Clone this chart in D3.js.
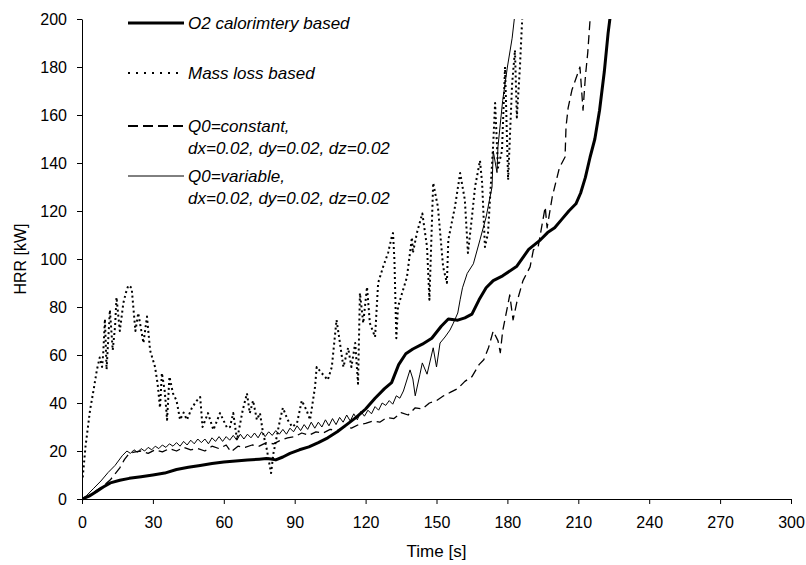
<!DOCTYPE html>
<html lang="en">
<head>
    <meta charset="UTF-8">
    <script src="https://d3js.org/d3.v7.min.js"></script>
    <title>HRR vs time</title>
    <style>
        body { margin: 0; background: #fff; }
        text { font-family: "Liberation Sans", Arial, sans-serif; fill: #000; }
        .axis path, .axis line { stroke: #000; stroke-width: 1; }
        .axis text { font-size: 16px; }
        .legend text { font-size: 17px; font-style: italic; }
    </style>
</head>
<body>
<div id="chart"></div>
<script>
    // data: [time (s), HRR (kW)]
    const o2Calorimetry = [
        [0, 0], [3, 1.2], [6, 3], [9, 5], [12, 6.7], [16, 7.8], [20, 8.6], [25, 9.3], [30, 10],
        [35, 10.8], [40, 12.3], [45, 13.2], [50, 14], [55, 14.8], [60, 15.4], [65, 15.8], [70, 16.2],
        [75, 16.6], [78, 16.9], [80, 16.7], [82, 16.3], [85, 17.5], [88, 19], [92, 20.5], [96, 21.7],
        [100, 23.5], [104, 25.5], [108, 28], [112, 31], [116, 34], [120, 37.5], [124, 42], [128, 46],
        [131, 48.5], [134, 56], [137, 60.5], [140, 62.5], [144, 64.5], [148, 67], [152, 72], [155, 75],
        [159, 74.5], [162, 75.5], [165, 77], [168, 83], [171, 88], [174, 91], [178, 93], [184, 97],
        [189, 104], [194, 108], [197, 111], [200, 113], [203, 116.5], [206, 120], [209, 123], [211, 127.5],
        [213, 134], [215, 142.5], [217, 150], [219, 162], [221, 178], [222.6, 194], [224, 205]
    ];

    const massLoss = [
        [0.3, 9], [1.5, 22], [3.4, 37], [5, 46], [6.3, 53.8], [7.5, 59], [8.5, 55], [9, 61], [9.7, 75],
        [10.4, 54], [11.2, 68], [11.8, 78.8], [13, 62], [14, 72], [14.6, 84], [16, 70], [17.5, 81.7],
        [18.6, 86], [19.6, 89], [21, 88], [22.6, 70], [23.8, 77.5], [26, 65], [27.5, 76], [28.8, 62],
        [30.9, 55], [32, 48], [33, 38], [33.8, 52.5], [35, 45], [36, 33], [37, 51], [38.5, 44], [40, 41],
        [41.5, 33], [43, 36], [44.4, 33], [46.5, 38], [48.6, 41], [50, 42.5], [51, 30], [53.3, 35.8],
        [55.6, 28.8], [58.4, 35.8], [61.4, 29.6], [62.6, 30], [64, 35.8], [65.6, 24.6], [68, 37],
        [69.8, 44], [71, 35.8], [72.4, 41], [74, 33], [75.3, 35.8], [76.6, 27.5], [78, 21.7], [80, 10.8],
        [81, 19], [83.8, 33], [85, 38], [87, 33], [89, 30], [91, 31.7], [93, 41], [95, 37], [96.5, 33],
        [98.6, 46.7], [99.3, 55], [101.4, 52.5], [104, 49.6], [105.7, 55], [107.7, 74.6], [109, 66],
        [110.6, 55], [112.6, 63], [114, 55], [115.6, 65], [116.8, 48], [117.6, 85.8], [119, 73.3],
        [120.6, 88.3], [121.8, 73.3], [124, 67.5], [125.3, 90], [127.4, 96.7], [129.5, 102.5], [131, 109],
        [131.6, 110.8], [132.2, 99.6], [133, 67], [133.7, 80], [134.6, 83], [137.5, 92.5], [139.6, 109],
        [140, 102.5], [141.7, 110.8], [144, 119], [146, 105], [147, 83], [148.6, 131.7], [150.6, 121.7],
        [152.8, 96.7], [154.4, 90], [155, 108], [157.8, 121.7], [160, 135.8], [162, 124.6], [163.3, 102.5],
        [165, 117.5], [166.3, 130], [168.4, 141], [169.3, 131.7], [170.5, 105], [171.8, 110.8], [174, 148],
        [174.8, 165], [176, 138], [177.7, 145], [179, 180], [180.3, 133], [182, 173], [183.2, 187],
        [184, 159], [185.3, 180], [186.5, 205]
    ];

    const q0Constant = [
        [0, 0], [3, 1.5], [6, 3.5], [9, 5.5], [12, 8], [14, 10.5], [16, 13], [18, 16.5], [20, 19],
        [22, 19.5], [25, 20], [28, 19], [31, 20.5], [34, 19.6], [37, 21], [40, 20], [43, 21.5], [46, 20.5],
        [49, 21], [52, 20], [55, 22], [58, 21], [61, 22.5], [63, 19.6], [66, 22], [69, 21.5], [72, 22.5],
        [75, 22], [78, 23.5], [81, 23], [84, 24.5], [87, 25.5], [90, 26], [93, 27.5], [96, 26.5], [99, 28],
        [102, 27.5], [105, 29], [108, 28.5], [111, 30], [114, 29.5], [117, 31], [120, 31.5], [123, 32.5],
        [126, 32], [129, 34], [132, 33.5], [135, 36], [138, 35], [141, 38], [144, 37.5], [147, 40],
        [150, 41], [153, 43], [156, 44.5], [159, 46], [162, 49], [165, 51], [168, 56], [170, 58], [172, 63],
        [174, 70], [176, 66], [177, 61], [178, 70], [180, 80], [181, 85], [182.4, 74.6], [184, 82],
        [186.6, 91], [189.6, 96.7], [191, 103.8], [193, 105], [196, 121.7], [196.8, 113], [199, 126],
        [202, 138], [204.4, 142.5], [204.8, 155], [205.7, 163], [207.3, 170.4], [210.7, 180], [212, 162],
        [213, 176], [214, 186], [215, 200], [216, 210]
    ];

    const q0Variable = [
        [0, 0], [2, 1.5], [5, 4.5], [8, 7.5], [11, 11], [14, 14], [17, 18], [19, 20], [20.5, 19],
        [22, 20.5], [23.5, 19.5], [25, 21], [26.5, 20], [28, 21.5], [29.5, 20.5], [31, 22], [32.5, 21],
        [34, 22.5], [35.5, 21.5], [37, 23], [38.5, 22], [40, 23.5], [41.5, 22], [43, 24], [44.5, 22.5],
        [46, 24.5], [47.5, 23], [49, 25], [50.5, 23.5], [52, 25], [53.5, 23], [55, 25.5], [56.5, 24],
        [58, 26], [59.5, 24], [61, 26], [62.5, 24.5], [64, 26.5], [65.5, 24.5], [67, 27], [68.5, 25],
        [70, 27], [71.5, 25.5], [73, 27.5], [74.5, 25.5], [76, 28], [77.5, 26], [79, 28], [80.5, 26.5],
        [82, 28.5], [83.5, 27], [85, 29], [86.5, 27], [88, 29.5], [89.5, 28], [91, 30.5], [92.5, 28.5],
        [94, 31], [95.5, 29], [97, 32], [98.5, 29.5], [100, 32], [101.5, 30], [103, 33], [104.5, 30.5],
        [106, 33.5], [107.5, 31], [109, 34], [110.5, 32], [112, 35], [113.5, 32.5], [115, 35.5],
        [116.5, 33], [118, 36.5], [119.5, 34.5], [121, 37], [122.5, 35.5], [124, 38.5], [125.5, 37],
        [127, 40], [128.5, 39], [130, 41], [131.5, 39.5], [133, 43], [134.5, 42], [136, 45], [138.8, 53.8],
        [140, 50], [141, 43], [143, 52], [144, 56.7], [146, 52], [148.6, 63], [150, 55], [151.5, 65],
        [153.6, 67.5], [155.7, 70.4], [157, 73], [159, 77.5], [160, 83], [161, 88], [163, 94], [165.6, 98],
        [168.4, 108], [171, 117.5], [173.5, 130], [174, 145], [175.6, 136], [176, 146.7], [178, 166],
        [180, 180], [182, 192], [183.5, 205]
    ];

    const xTicks = [0, 30, 60, 90, 120, 150, 180, 210, 240, 270, 300];
    const yTicks = [0, 20, 40, 60, 80, 100, 120, 140, 160, 180, 200];

    const legendLabels = [
        ['O2 calorimtery based'],
        ['Mass loss based'],
        ['Q0=constant,', 'dx=0.02, dy=0.02, dz=0.02'],
        ['Q0=variable,', 'dx=0.02, dy=0.02, dz=0.02']
    ];

    const w = 806;
    const h = 565;
    const padL = 82, padR = 791, padT = 19, padB = 499;

    const xScale = d3.scaleLinear().domain([0, 300]).range([padL, padR]);
    const yScale = d3.scaleLinear().domain([0, 200]).range([padB, padT]);

    const svg = d3.select('#chart').append('svg')
        .attr('width', w)
        .attr('height', h);

    svg.append('clipPath').attr('id', 'plot-clip')
        .append('rect')
        .attr('x', padL)
        .attr('y', padT)
        .attr('width', padR - padL + 2)
        .attr('height', padB - padT + 2);

    // line styles
    const styles = [
        { data: o2Calorimetry, width: 3, dash: null, legendDash: null },
        { data: massLoss, width: 2, dash: '2,3', legendDash: '2,6' },
        { data: q0Constant, width: 1.3, dash: '9,5', legendDash: '10,5' },
        { data: q0Variable, width: 1, dash: null, legendDash: null }
    ];

    const line = d3.line()
        .x(d => xScale(d[0]))
        .y(d => yScale(d[1]));

    const plot = svg.append('g').attr('clip-path', 'url(#plot-clip)');
    plot.selectAll('path')
        .data(styles.slice().reverse())
        .enter().append('path')
        .attr('d', d => line(d.data))
        .attr('fill', 'none')
        .attr('stroke', '#000')
        .attr('stroke-width', d => d.width)
        .attr('stroke-dasharray', d => d.dash)
        .attr('stroke-linejoin', 'round');

    //axes
    const xAxis = d3.axisBottom(xScale).tickValues(xTicks).tickSize(5).tickSizeOuter(0).tickPadding(13);
    const yAxis = d3.axisLeft(yScale).tickValues(yTicks).tickSize(5).tickSizeOuter(0).tickPadding(10);

    svg.append('g')
        .attr('class', 'axis')
        .attr('transform', 'translate(0,' + padB + ')')
        .call(xAxis);

    svg.append('g')
        .attr('class', 'axis')
        .attr('transform', 'translate(' + padL + ',0)')
        .call(yAxis);

    svg.append('text')
        .text('Time [s]')
        .attr('x', (padL + padR) / 2)
        .attr('y', 557)
        .attr('text-anchor', 'middle')
        .style('font-size', '17px');

    svg.append('text')
        .text('HRR [kW]')
        .attr('transform', 'translate(26,' + ((padT + padB) / 2) + ') rotate(-90)')
        .attr('text-anchor', 'middle')
        .style('font-size', '16px');

    // legend
    const legendY = [23, 73, 126, 176];
    const legend = svg.append('g').attr('class', 'legend');

    legend.selectAll('line')
        .data(styles)
        .enter().append('line')
        .attr('x1', 128)
        .attr('x2', 184)
        .attr('y1', (d, i) => legendY[i])
        .attr('y2', (d, i) => legendY[i])
        .attr('stroke', '#000')
        .attr('stroke-width', (d, i) => i == 2 ? 2 : d.width)
        .attr('stroke-dasharray', d => d.legendDash);

    legendLabels.forEach((lines, i) => {
        lines.forEach((txt, j) => {
            legend.append('text')
                .text(txt)
                .attr('x', 188)
                .attr('y', legendY[i] + 6 + j * 22);
        });
    });
</script>
</body>
</html>
